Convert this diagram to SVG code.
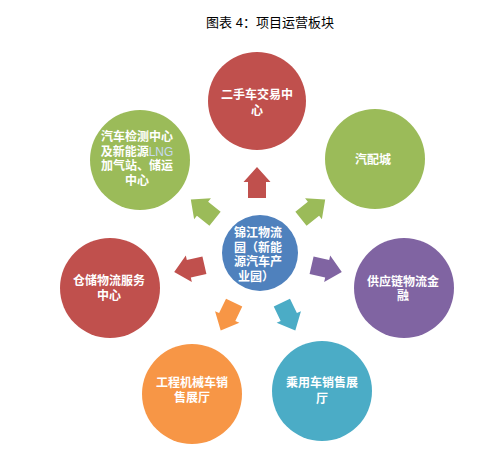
<svg xmlns="http://www.w3.org/2000/svg" width="499" height="471" viewBox="0 0 499 471">
<defs>
<style>
.t{font-family:"Liberation Sans","Noto Sans CJK SC",sans-serif;font-weight:bold;font-size:12px;fill:#fff;text-anchor:middle}
.ti{font-family:"Liberation Sans","Noto Sans CJK SC",sans-serif;font-size:13px;fill:#000;text-anchor:middle}
</style>
<path id="arr" d="M0,0 L13.5,15 L9,15 L9,31 L-9,31 L-9,15 L-13.5,15 Z"/>
</defs>
<rect width="499" height="471" fill="#fff"/>
<text class="ti" x="270" y="27">图表 4：项目运营板块</text>
<g id="connectors">
<use href="#arr" fill="#C0504D" transform="translate(257,167) rotate(0)"/>
<use href="#arr" fill="#9BBB59" transform="translate(325.2,199.4) rotate(51.43)"/>
<use href="#arr" fill="#8064A2" transform="translate(341.8,272.1) rotate(102.86)"/>
<use href="#arr" fill="#4BACC6" transform="translate(295.3,330.5) rotate(154.29)"/>
<use href="#arr" fill="#F79646" transform="translate(220.7,330.5) rotate(205.71)"/>
<use href="#arr" fill="#C0504D" transform="translate(174.2,272.1) rotate(257.14)"/>
<use href="#arr" fill="#9BBB59" transform="translate(190.8,199.4) rotate(308.57)"/>
</g>
<g id="center">
<circle cx="260" cy="253" r="38" fill="#4F81BD"/>
<text class="t" y="237"><tspan x="258">锦江物流</tspan><tspan x="258" dy="14.5">园（新能</tspan><tspan x="258" dy="14.5">源汽车产</tspan><tspan x="256" dy="14.5">业园）</tspan></text>
</g>
<g id="n-top">
<circle cx="257" cy="101" r="49" fill="#C0504D"/>
<text class="t" y="99"><tspan x="257">二手车交易中</tspan><tspan x="257" dy="15.5">心</tspan></text>
</g>
<g id="n-ur">
<circle cx="375" cy="159" r="50" fill="#9BBB59"/>
<text class="t" x="373" y="163.5">汽配城</text>
</g>
<g id="n-r">
<circle cx="404" cy="288" r="50" fill="#8064A2"/>
<text class="t" y="285.5"><tspan x="403">供应链物流金</tspan><tspan x="403" dy="14.5">融</tspan></text>
</g>
<g id="n-br">
<circle cx="322" cy="391" r="50" fill="#4BACC6"/>
<text class="t" y="387"><tspan x="322">乘用车销售展</tspan><tspan x="322" dy="15.5">厅</tspan></text>
</g>
<g id="n-bl">
<circle cx="192" cy="394" r="50" fill="#F79646"/>
<text class="t" y="387"><tspan x="192">工程机械车销</tspan><tspan x="192" dy="14.5">售展厅</tspan></text>
</g>
<g id="n-l">
<circle cx="110" cy="288" r="50" fill="#C0504D"/>
<text class="t" y="285"><tspan x="109">仓储物流服务</tspan><tspan x="109" dy="14.5">中心</tspan></text>
</g>
<g id="n-ul">
<circle cx="140" cy="160" r="50" fill="#9BBB59"/>
<text class="t" y="141"><tspan x="137">汽车检测中心</tspan><tspan x="137" dy="14.5">及新能源<tspan fill="#C6D9F1" font-weight="normal">LNG</tspan></tspan><tspan x="137" dy="14.5">加气站、储运</tspan><tspan x="137" dy="14.5">中心</tspan></text>
</g>
</svg>
